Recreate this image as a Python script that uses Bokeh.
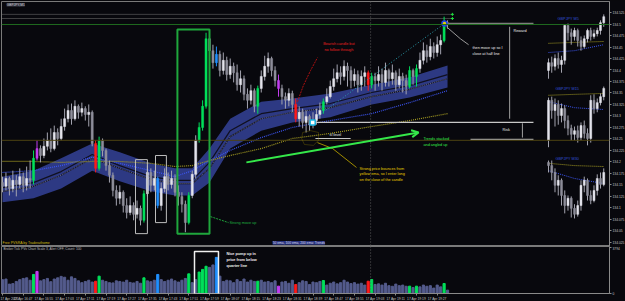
from bokeh.plotting import figure
from bokeh.layouts import column
from bokeh.models import (Range1d, FixedTicker, Span, BoxAnnotation, Label, Arrow, OpenHead,
                          PolyAnnotation, ColumnDataSource)
from bokeh.embed import file_html
from bokeh.resources import INLINE

# ---------------- main GBPJPY M1 candles ----------------
open0 = 134.155
close = [134.147, 134.164, 134.142, 134.160, 134.151, 134.168, 134.149, 134.164, 134.160, 134.208,
         134.229, 134.214, 134.234, 134.247, 134.229, 134.264, 134.251, 134.277, 134.294, 134.312,
         134.294, 134.321, 134.308, 134.316, 134.303, 134.308, 134.240, 134.186, 134.247, 134.225,
         134.192, 134.171, 134.138, 134.121, 134.134, 134.105, 134.090, 134.105, 134.086, 134.099,
         134.073, 134.131, 134.177, 134.149, 134.164, 134.105, 134.142, 134.168, 134.151, 134.164,
         134.134, 134.125, 134.108, 134.068, 134.127, 134.173, 134.247, 134.275, 134.321, 134.468,
         134.442, 134.416, 134.434, 134.399, 134.421, 134.390, 134.408, 134.394, 134.368, 134.381,
         134.347, 134.334, 134.355, 134.321, 134.360, 134.386, 134.408, 134.425, 134.399, 134.377,
         134.360, 134.342, 134.334, 134.349, 134.325, 134.294, 134.308, 134.286, 134.299, 134.281,
         134.290, 134.303, 134.312, 134.331, 134.342, 134.364, 134.381, 134.394, 134.386, 134.408,
         134.399, 134.377, 134.390, 134.368, 134.386, 134.394, 134.368, 134.386, 134.377, 134.390,
         134.373, 134.399, 134.381, 134.394, 134.368, 134.386, 134.377, 134.364, 134.399, 134.386,
         134.403, 134.421, 134.442, 134.429, 134.451, 134.438, 134.455, 134.464, 134.503, 134.499]
high = [134.168, 134.177, 134.168, 134.181, 134.171, 134.186, 134.177, 134.190, 134.203, 134.225,
        134.247, 134.236, 134.251, 134.264, 134.273, 134.279, 134.273, 134.294, 134.316, 134.325,
        134.327, 134.334, 134.325, 134.329, 134.321, 134.325, 134.312, 134.247, 134.255, 134.251,
        134.229, 134.203, 134.177, 134.149, 134.149, 134.138, 134.121, 134.125, 134.112, 134.116,
        134.105, 134.138, 134.192, 134.186, 134.181, 134.168, 134.155, 134.186, 134.177, 134.181,
        134.173, 134.149, 134.134, 134.116, 134.134, 134.181, 134.258, 134.286, 134.334, 134.481,
        134.475, 134.455, 134.451, 134.442, 134.438, 134.429, 134.425, 134.416, 134.412, 134.399,
        134.388, 134.360, 134.368, 134.360, 134.366, 134.399, 134.431, 134.438, 134.429, 134.408,
        134.390, 134.368, 134.351, 134.360, 134.355, 134.338, 134.321, 134.316, 134.312, 134.303,
        134.308, 134.316, 134.329, 134.338, 134.360, 134.377, 134.403, 134.412, 134.408, 134.421,
        134.416, 134.408, 134.403, 134.399, 134.399, 134.408, 134.399, 134.394, 134.394, 134.408,
        134.403, 134.416, 134.403, 134.412, 134.399, 134.403, 134.394, 134.390, 134.408, 134.403,
        134.412, 134.438, 134.460, 134.455, 134.468, 134.460, 134.473, 134.477, 134.516, 134.508]
low = [134.134, 134.138, 134.127, 134.134, 134.125, 134.142, 134.134, 134.138, 134.142, 134.151,
       134.203, 134.199, 134.208, 134.225, 134.221, 134.225, 134.236, 134.247, 134.268, 134.286,
       134.281, 134.290, 134.294, 134.299, 134.290, 134.277, 134.234, 134.177, 134.181, 134.212,
       134.181, 134.155, 134.125, 134.105, 134.108, 134.090, 134.077, 134.084, 134.073, 134.077,
       134.062, 134.068, 134.125, 134.134, 134.138, 134.099, 134.094, 134.134, 134.138, 134.142,
       134.125, 134.105, 134.090, 134.047, 134.064, 134.121, 134.164, 134.242, 134.268, 134.316,
       134.429, 134.403, 134.408, 134.386, 134.390, 134.377, 134.381, 134.373, 134.355, 134.351,
       134.334, 134.316, 134.325, 134.308, 134.305, 134.351, 134.377, 134.394, 134.386, 134.364,
       134.342, 134.325, 134.316, 134.321, 134.308, 134.286, 134.277, 134.273, 134.264, 134.268,
       134.273, 134.281, 134.294, 134.305, 134.325, 134.338, 134.355, 134.373, 134.368, 134.377,
       134.364, 134.360, 134.364, 134.351, 134.355, 134.364, 134.355, 134.360, 134.355, 134.364,
       134.355, 134.364, 134.364, 134.368, 134.355, 134.360, 134.351, 134.347, 134.360, 134.368,
       134.364, 134.394, 134.412, 134.416, 134.421, 134.425, 134.429, 134.434, 134.460, 134.490]
volume = [1150, 1200, 780, 820, 1000, 1150, 1250, 1300, 1100, 1580,
          1830, 1050, 1150, 1250, 980, 1200, 1300, 1420, 1350, 1100,
          1380, 1250, 1050, 900, 1000, 1100, 950, 1020, 1440, 1100,
          1000, 900, 880, 1050, 1000, 950, 1100, 920, 880, 1000,
          850, 1300, 1050, 980, 1100, 1580, 1150, 1000, 1100, 1200,
          1050, 950, 1100, 1250, 1630, 900, 1150, 1780, 2000, 2260,
          2170, 2370, 3000, 1440, 1000, 1100, 1050, 900, 1150, 1000,
          1200, 950, 1100, 1000, 1020, 1100, 950, 1000, 900, 1050,
          610, 950, 1000, 850, 1100, 750, 900, 1050, 1000, 750,
          950, 900, 1000, 1080, 700, 850, 950, 800, 900, 1100,
          950, 820, 900, 780, 850, 700, 1020, 1160, 750, 800,
          700, 850, 650, 600, 780, 650, 700, 600, 610, 500,
          610, 550, 700, 600, 650, 450, 700, 550, 830, 280]
# PVSRA highlighted bars
climax_bull = [9, 28, 41, 54, 57, 58, 59, 74, 93, 107, 118, 120, 128]
climax_bear = [27, 85, 106]
rising_purple = [10, 80]
rising_blue = [45, 62]

# moving-average ribbon (knots at bar indices)
ema_knots = [0, 9, 17, 26, 34, 43, 50, 55, 60, 66, 75, 84, 95, 107, 118, 129]
band_upper = [134.168, 134.181, 134.208, 134.240, 134.221, 134.197, 134.186, 134.186,
              134.229, 134.294, 134.331, 134.338, 134.349, 134.368, 134.384, 134.410]
band_lower = [134.112, 134.121, 134.142, 134.181, 134.158, 134.136, 134.127, 134.127,
              134.155, 134.229, 134.268, 134.286, 134.297, 134.325, 134.340, 134.362]
ema50 = [134.144, 134.155, 134.179, 134.216, 134.192, 134.168, 134.160, 134.160,
         134.199, 134.268, 134.305, 134.316, 134.327, 134.351, 134.366, 134.390]
ema50b = [134.136, 134.147, 134.171, 134.208, 134.186, 134.162, 134.153, 134.153,
          134.186, 134.255, 134.294, 134.308, 134.318, 134.342, 134.358, 134.381]
ema100 = [134.177, 134.181, 134.192, 134.210, 134.197, 134.181, 134.168, 134.181,
          134.203, 134.225, 134.253, 134.275, 134.290, 134.305, 134.329, 134.355]
ema200 = [134.201, 134.201, 134.199, 134.201, 134.201, 134.197, 134.190, 134.192,
          134.203, 134.214, 134.229, 134.251, 134.262, 134.277, 134.290, 134.305]

# ---------------- mini charts ----------------
m5_open0 = 134.399
m5_close = [134.416, 134.408, 134.425, 134.412, 134.421, 134.497, 134.481, 134.473, 134.486,
            134.464, 134.451, 134.468, 134.486, 134.473, 134.479, 134.486, 134.503, 134.516]
m5_high = [134.425, 134.429, 134.434, 134.438, 134.431, 134.499, 134.501, 134.490, 134.492,
           134.490, 134.473, 134.475, 134.490, 134.492, 134.488, 134.492, 134.508, 134.521]
m5_low = [134.381, 134.394, 134.399, 134.403, 134.394, 134.412, 134.464, 134.455, 134.464,
          134.451, 134.442, 134.447, 134.460, 134.464, 134.468, 134.473, 134.477, 134.494]
m15_open0 = 134.247
m15_close = [134.334, 134.312, 134.325, 134.301, 134.316, 134.290, 134.273, 134.260, 134.268,
             134.253, 134.279, 134.262, 134.251, 134.334, 134.316, 134.329, 134.342, 134.360]
m15_high = [134.340, 134.342, 134.338, 134.334, 134.327, 134.323, 134.301, 134.281, 134.277,
            134.279, 134.286, 134.290, 134.273, 134.345, 134.347, 134.338, 134.349, 134.364]
m15_low = [134.232, 134.294, 134.277, 134.281, 134.286, 134.273, 134.258, 134.247, 134.247,
           134.242, 134.247, 134.251, 134.236, 134.242, 134.305, 134.308, 134.323, 134.334]
m30_open0 = 134.199
m30_close = [134.192, 134.177, 134.149, 134.160, 134.127, 134.105, 134.121, 134.099, 134.086,
             134.105, 134.149, 134.160, 134.127, 134.116, 134.138, 134.164, 134.151, 134.177]
m30_high = [134.203, 134.203, 134.186, 134.171, 134.164, 134.138, 134.127, 134.125, 134.108,
            134.116, 134.160, 134.168, 134.164, 134.138, 134.149, 134.173, 134.177, 134.186]
m30_low = [134.177, 134.160, 134.134, 134.127, 134.105, 134.088, 134.094, 134.079, 134.077,
           134.081, 134.094, 134.134, 134.116, 134.108, 134.112, 134.127, 134.142, 134.147]
mini_knots = [0, 8, 17]
m5_ema_y = [134.458, 134.460, 134.462]
m5_ema_b = [134.438, 134.442, 134.455]
m15_ema_y = [134.345, 134.347, 134.349]
m15_ema_b = [134.331, 134.318, 134.314]
m30_ema_y = [134.197, 134.192, 134.190]
m30_ema_b = [134.181, 134.164, 134.153]

# ---------------- axes ----------------
price_ticks = [134.025, 134.050, 134.075, 134.100, 134.125, 134.150, 134.175, 134.200, 134.225,
               134.250, 134.275, 134.300, 134.325, 134.350, 134.375, 134.400, 134.425, 134.450,
               134.475, 134.500, 134.525]
time_ticks = [0, 6, 12, 18, 24, 30, 36, 42, 48, 54, 60, 66, 72, 78, 84, 90, 96, 102, 108, 114, 120, 126]
time_labels = ["17 Apr 2020", "17 Apr 16:47", "17 Apr 16:55", "17 Apr 17:03", "17 Apr 17:11",
               "17 Apr 17:19", "17 Apr 17:27", "17 Apr 17:35", "17 Apr 17:43", "17 Apr 17:51",
               "17 Apr 17:59", "17 Apr 18:07", "17 Apr 18:15", "17 Apr 18:23", "17 Apr 18:31",
               "17 Apr 18:39", "17 Apr 18:47", "17 Apr 18:55", "17 Apr 19:03", "17 Apr 19:11",
               "17 Apr 19:19", "17 Apr 19:27"]
vol_ticks = [0, 3794]

BG = "#08080d"
FONT = "Liberation Sans"
GREEN = "#00e05a"
RED = "#ff1a1a"
PURPLE = "#c23cf0"
BLUE = "#2090ff"
BULL = "#e4e4ec"
BEAR = "#8e8e9a"
WICK = "#a4a4b0"

special = {}
for i in climax_bull:
    special[i] = GREEN
for i in climax_bear:
    special[i] = RED
for i in rising_purple:
    special[i] = PURPLE
for i in rising_blue:
    special[i] = BLUE


def candle_source(op0, closes, highs, lows, colors):
    n = len(closes)
    opens = [op0] + closes[:-1]
    fill, wick = [], []
    for i in range(n):
        c = colors.get(i)
        fill.append(c if c else (BULL if closes[i] >= opens[i] else BEAR))
        wick.append(c if c else WICK)
    return ColumnDataSource(dict(
        x=list(range(n)),
        top=[max(o, c) for o, c in zip(opens, closes)],
        bottom=[min(o, c) for o, c in zip(opens, closes)],
        high=highs, low=lows, color=fill, wick=wick))


x_range = Range1d(-0.29, 175.94)
p = figure(frame_width=608, frame_height=245, x_range=x_range, y_range=Range1d(134.016, 134.549),
           output_backend="svg", toolbar_location=None, x_axis_location=None, y_axis_location="right",
           min_border_left=1, min_border_top=1, min_border_bottom=0, min_border_right=0,
           background_fill_color=BG, border_fill_color=BG, outline_line_color="#7a7a7a")
p.grid.visible = False
p.extra_x_ranges = {"mini": Range1d(-168.31, 18.77)}
ax = p.yaxis[0]
ax.ticker = FixedTicker(ticks=price_ticks)
ax.formatter.use_scientific = False
ax.major_label_text_font_size = "3.3px"
ax.major_label_text_font = FONT
ax.major_label_text_color = "#c4c4c4"
ax.axis_line_color = "#8a8a8a"
ax.major_tick_line_color = "#8a8a8a"
ax.major_tick_out = 2
ax.major_tick_in = 0
ax.minor_tick_line_color = None
ax.major_label_standoff = 1

# horizontal reference lines
p.add_layout(Span(location=134.247, dimension="width", line_color="#4d4312", line_width=1))
p.add_layout(Span(location=134.499, dimension="width", line_color="#1f6a1f", line_width=1))
p.add_layout(Span(location=106.7, dimension="height", line_color="#5a5a5a", line_width=1, line_dash="1 2"))
p.segment(x0=[0, 0], y0=[134.521, 134.512], x1=[130.4, 130.4], y1=[134.521, 134.512],
          line_color="#777777", line_width=1, line_dash="1 1")

# ribbon
p.varea(x=ema_knots, y1=band_lower, y2=band_upper, fill_color="#2f3c8a", fill_alpha=0.95)
p.line(ema_knots, ema50, line_color="#101020", line_width=1.2)
p.line(ema_knots, ema50b, line_color="#101020", line_width=1.2)
p.line(ema_knots, ema50b, line_color="#9aa0c0", line_width=0.6, line_dash="1 1")
p.line(ema_knots, ema100, line_color="#3c55f0", line_width=1.2, line_dash="1 1")
p.line(ema_knots, ema200, line_color="#a59c22", line_width=1.2, line_dash="1 1")

# main candles
src = candle_source(open0, close, high, low, special)
p.segment(x0="x", y0="low", x1="x", y1="high", line_color="wick", line_width=1, source=src)
p.vbar(x="x", width=0.6, top="top", bottom="bottom", fill_color="color", line_color="color",
       line_width=0.5, source=src)

# mini charts
for (o0, cl, hi, lo, ey, eb) in [(m5_open0, m5_close, m5_high, m5_low, m5_ema_y, m5_ema_b),
                                 (m15_open0, m15_close, m15_high, m15_low, m15_ema_y, m15_ema_b),
                                 (m30_open0, m30_close, m30_high, m30_low, m30_ema_y, m30_ema_b)]:
    p.line(mini_knots, ey, line_color="#a59c22", line_width=1, line_dash="1 1", x_range_name="mini")
    p.line(mini_knots, eb, line_color="#3c55f0", line_width=1, line_dash="1 1", x_range_name="mini")
    ms = candle_source(o0, cl, hi, lo, {})
    p.segment(x0="x", y0="low", x1="x", y1="high", line_color="wick", line_width=1, source=ms,
              x_range_name="mini")
    p.vbar(x="x", width=0.6, top="top", bottom="bottom", fill_color="color", line_color="color",
           line_width=0.5, source=ms, x_range_name="mini")


def note(x, y, text, color, size="3.8px", align="left", bold=False, bg=None):
    p.add_layout(Label(x=x, y=y, text=text, text_color=color, text_font_size=size,
                       text_align=align, text_baseline="top", text_font=FONT,
                       text_font_style="bold" if bold else "normal",
                       background_fill_color=bg))


# boxes
p.add_layout(BoxAnnotation(left=50.7, right=60.0, top=134.488, bottom=134.044, fill_alpha=0,
                           line_color="#1fa63c", line_width=2, line_alpha=1))
p.add_layout(BoxAnnotation(left=38.55, right=42.0, top=134.205, bottom=134.044, fill_alpha=0,
                           line_color="#bdbdbd", line_width=1, line_alpha=1))
p.add_layout(BoxAnnotation(left=44.35, right=47.5, top=134.214, bottom=134.068, fill_alpha=0,
                           line_color="#bdbdbd", line_width=1, line_alpha=1))
p.add_layout(PolyAnnotation(xs=[87.0, 89.3, 91.6, 91.6, 90.1, 87.5, 86.7],
                            ys=[134.264, 134.268, 134.264, 134.247, 134.236, 134.238, 134.251],
                            fill_alpha=0, line_color="#a08c00", line_width=1))

# leader lines
p.line([60.3, 65.5], [134.081, 134.068], line_color="#1fa63c", line_width=1, line_dash="2 1")
p.line([85.5, 87.2, 89.3, 91.3], [134.331, 134.366, 134.399, 134.427], line_color="#b01010",
       line_width=1, line_dash="2 1")
p.line([91.3, 95.7, 102.6], [134.242, 134.229, 134.188], line_color="#a08c00", line_width=1)
p.line([128.7, 132.7, 135.1], [134.494, 134.468, 134.455], line_color="#9a9a9a", line_width=1)
p.line([91.6, 128.1], [134.301, 134.501], line_color="#2aa0b0", line_width=1, line_dash="1 2")

# risk / reward drawing
p.line([90.1, 153.9], [134.286, 134.286], line_color="#c8c8c8", line_width=1.2)
p.line([90.7, 100.9], [134.251, 134.251], line_color="#c8c8c8", line_width=1.2)
p.line([135.65, 153.9], [134.249, 134.249], line_color="#a0a0a0", line_width=1.2)
p.line([129.3, 153.9], [134.501, 134.501], line_color="#808080", line_width=1.5)
p.line([147.0, 147.0], [134.494, 134.294], line_color="#a0a0a0", line_width=1)
p.line([150.7, 150.7], [134.284, 134.253], line_color="#a0a0a0", line_width=1)

p.scatter([89.9], [134.286], marker="square", size=5, fill_color="#ffffff", line_color="#19b6e6",
          line_width=1.5)
p.scatter([128.1], [134.501], marker="circle", size=5, fill_color="#e8d000", line_color="#2040e0",
          line_width=1.5)
p.scatter([130.4, 130.4], [134.521, 134.512], marker="cross", size=3, line_color="#20e040")

p.add_layout(Arrow(end=OpenHead(size=7, line_color="#35e84a", line_width=2),
                   x_start=70.7, y_start=134.199, x_end=120.6, y_end=134.264,
                   line_color="#35e84a", line_width=2))

# texts
note(1.2, 134.546, "GBPJPY,M1", "#c8c8c8", size="3.3px", bg="#3a3a48")
note(97.5, 134.461, "Bearish candle but", "#e82020", align="center")
note(97.5, 134.448, "no follow through", "#e82020", align="center")
note(136.2, 134.453, "then move up so I", "#e8e8e8")
note(136.2, 134.440, "close at half line", "#e8e8e8")
note(148.1, 134.490, "Reward", "#e8e8e8")
note(144.9, 134.273, "Risk", "#e8e8e8")
note(94.8, 134.262, "sl level", "#e8e8e8")
note(103.5, 134.190, "Strong price bounces from", "#e8d000")
note(103.5, 134.177, "yellow ema, so I enter long", "#e8d000")
note(103.5, 134.164, "on the close of the candle", "#e8d000")
note(122.0, 134.255, "Trends stacked", "#35e84a")
note(122.0, 134.242, "and angled up", "#35e84a")
note(65.8, 134.071, "Strong move up", "#1fb040")
note(160.9, 134.516, "GBPJPY M5", "#3050d8")
note(160.3, 134.364, "GBPJPY M15", "#3050d8")
note(160.3, 134.210, "GBPJPY M30", "#3050d8")
note(0.0, 134.029, "Free PVSRA by Traderathome", "#d2bc10", size="3.5px")
note(78.3, 134.028, "50 ema, 100 ema, 200 ema: Trends", "#d8d8e8", size="3.3px", bg="#2a3580")

# ---------------- volume panel ----------------
v = figure(frame_width=608, frame_height=47, x_range=x_range, y_range=Range1d(0, 3900),
           output_backend="svg", toolbar_location=None, y_axis_location="right",
           min_border_left=1, min_border_top=0, min_border_bottom=0, min_border_right=0,
           background_fill_color=BG, border_fill_color=BG, outline_line_color="#7a7a7a")
v.grid.visible = False
vcolors = [special.get(i, "#545b8c") for i in range(len(volume))]
v.vbar(x=list(range(len(volume))), top=volume, width=0.62, fill_color=vcolors, line_color=vcolors)
v.add_layout(Span(location=106.7, dimension="height", line_color="#5a5a5a", line_width=1, line_dash="1 2"))
v.add_layout(BoxAnnotation(left=55.65, right=62.6, top=3490, bottom=-60, fill_alpha=0,
                           line_color="#f0f0f0", line_width=1.5, line_alpha=1))
for k, t in enumerate(["Nice pump up in", "price from below", "quarter line"]):
    v.add_layout(Label(x=64.9, y=3420 - k * 480, text=t, text_color="#f0f0f0", text_font_size="3.8px",
                       text_baseline="top", text_font=FONT, text_font_style="bold"))
v.add_layout(Label(x=0.3, y=3820, text="Broker Tick PVs   Chart Scale 3, Alert OFF, Count: 100",
                   text_color="#b8b8b8", text_font_size="3.3px", text_baseline="top", text_font=FONT))
xa = v.xaxis[0]
xa.ticker = FixedTicker(ticks=time_ticks)
xa.major_label_overrides = {t: l for t, l in zip(time_ticks, time_labels)}
xa.major_label_text_font_size = "3.3px"
xa.major_label_text_font = FONT
xa.major_label_text_color = "#c4c4c4"
xa.major_label_text_align = "left"
xa.axis_line_color = "#8a8a8a"
xa.major_tick_line_color = "#8a8a8a"
xa.major_tick_out = 2
xa.major_tick_in = 0
xa.minor_tick_line_color = None
xa.major_label_standoff = 1
ya = v.yaxis[0]
ya.ticker = FixedTicker(ticks=vol_ticks)
ya.major_label_text_font_size = "3.3px"
ya.major_label_text_font = FONT
ya.major_label_text_color = "#c4c4c4"
ya.axis_line_color = "#8a8a8a"
ya.major_tick_line_color = "#8a8a8a"
ya.major_tick_out = 2
ya.major_tick_in = 0
ya.minor_tick_line_color = None
ya.major_label_standoff = 1

layout = column(p, v, spacing=0, styles={"background-color": BG})
open("out.html", "w").write(file_html(layout, INLINE))
